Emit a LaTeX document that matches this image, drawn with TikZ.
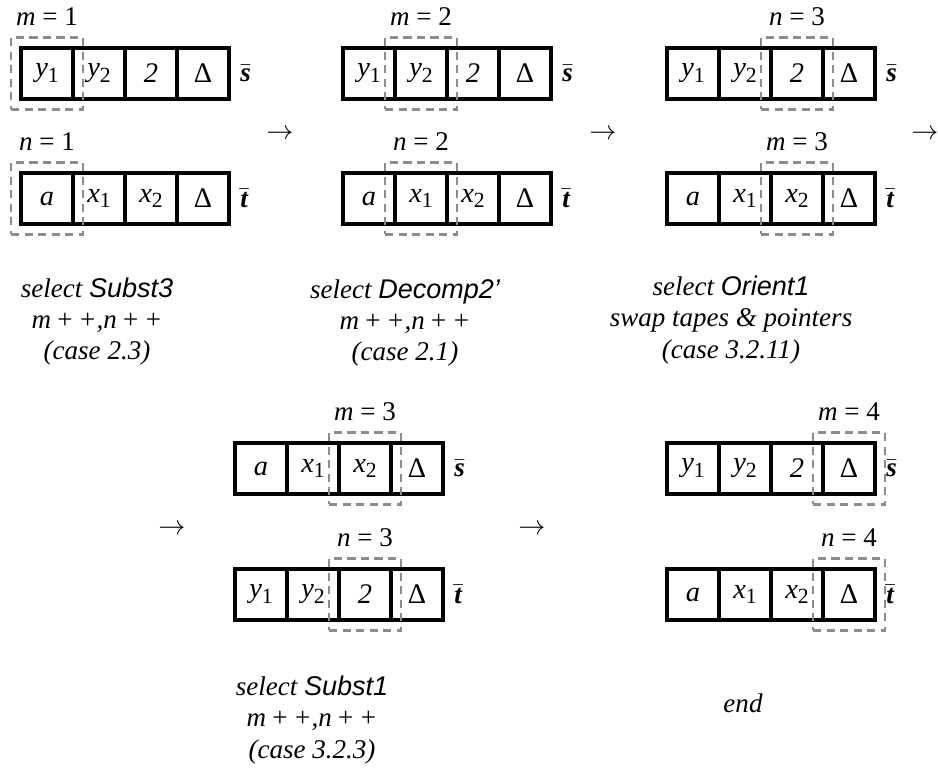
\documentclass[tikz,border=0pt]{standalone}
\usepackage{fontspec}
\setmainfont{Liberation Serif}
\setsansfont{Liberation Sans}
\usetikzlibrary{positioning}
\tikzstyle{cell} = [rectangle, draw, line width=1.4pt, minimum width=19.24pt, minimum height=18.9pt, inner sep=0pt, text centered, font=\itshape\fontsize{10.5}{12}\selectfont]
\tikzstyle{pointer} = [rectangle, draw=gray!90, dash pattern=on 3pt off 2pt, line width=0.9pt, minimum width=26.6pt, minimum height=26.6pt]
\tikzstyle{caption} = [align=center, font=\itshape\fontsize{10}{11.5}\selectfont]
\newcommand{\ix}[2]{#1\raisebox{-0.45ex}{\footnotesize\upshape #2}}
\newcommand{\tapeend}{{\upshape Δ}}
\newcommand{\sbar}{$\bar{\mbox{\bfseries\itshape s}}$}
\newcommand{\tbar}{$\bar{\mbox{\bfseries\itshape t}}$}
\newcommand{\tape}[6]{
        \node (#1-1) [cell] at #2 {#3};
        \node (#1-2) [cell, right of = #1-1] {#4};
        \node (#1-3) [cell, right of = #1-2] {#5};
        \node (#1-4) [cell, right of = #1-3] {#6};
}
\begin{document}
\begin{tikzpicture}[x=0.37pt, y=-0.37pt, node distance=19.24pt]
        \useasboundingbox (0,0) rectangle (938,771);
        % step 1
        \tape{s1}{(47,73.5)}{\ix{y}{1}}{\ix{y}{2}}{2}{\tapeend}
        \tape{t1}{(47,198.5)}{a}{\ix{x}{1}}{\ix{x}{2}}{\tapeend}
        \node (s1p) [pointer] at (s1-1) {};
        \node (t1p) [pointer] at (t1-1) {};
        \node (s1m) [above=0.5pt of s1p] {\textit{m} = 1};
        \node (t1n) [above=0.5pt of t1p] {\textit{n} = 1};
        \node (s1name) [right=0pt of s1-4] {\sbar};
        \node (t1name) [right=0pt of t1-4] {\tbar};
        \node (s1text) [caption] at (97,322) {select \textsf{Subst3}\\ \textit{m}\,+\,+,\textit{n}\,+\,+\\ (case 2.3)};
        \node (go1) at (280,135) {$\rightarrow$};
        % step 2
        \tape{s2}{(369,73.5)}{\ix{y}{1}}{\ix{y}{2}}{2}{\tapeend}
        \tape{t2}{(369,198.5)}{a}{\ix{x}{1}}{\ix{x}{2}}{\tapeend}
        \node (s2p) [pointer] at (s2-2) {};
        \node (t2p) [pointer] at (t2-2) {};
        \node (s2m) [above=0.5pt of s2p] {\textit{m} = 2};
        \node (t2n) [above=0.5pt of t2p] {\textit{n} = 2};
        \node (s2name) [right=0pt of s2-4] {\sbar};
        \node (t2name) [right=0pt of t2-4] {\tbar};
        \node (s2text) [caption] at (405,323) {select \textsf{Decomp2'}\\ \textit{m}\,+\,+,\textit{n}\,+\,+\\ (case 2.1)};
        \node (go2) at (603,135) {$\rightarrow$};
        % step 3
        \tape{s3}{(693,73.5)}{\ix{y}{1}}{\ix{y}{2}}{2}{\tapeend}
        \tape{t3}{(693,198.5)}{a}{\ix{x}{1}}{\ix{x}{2}}{\tapeend}
        \node (s3p) [pointer] at (s3-3) {};
        \node (t3p) [pointer] at (t3-3) {};
        \node (s3n) [above=0.5pt of s3p] {\textit{n} = 3};
        \node (t3m) [above=0.5pt of t3p] {\textit{m} = 3};
        \node (s3name) [right=0pt of s3-4] {\sbar};
        \node (t3name) [right=0pt of t3-4] {\tbar};
        \node (s3text) [caption] at (731,320) {select \textsf{Orient1}\\ swap tapes \& pointers\\ (case 3.2.11)};
        \node (go3) at (925,135) {$\rightarrow$};
        % step 4
        \node (go4) at (172,530) {$\rightarrow$};
        \tape{s4}{(261,468.5)}{a}{\ix{x}{1}}{\ix{x}{2}}{\tapeend}
        \tape{t4}{(261,594.5)}{\ix{y}{1}}{\ix{y}{2}}{2}{\tapeend}
        \node (s4p) [pointer] at (s4-3) {};
        \node (t4p) [pointer] at (t4-3) {};
        \node (s4m) [above=0.5pt of s4p] {\textit{m} = 3};
        \node (t4n) [above=0.5pt of t4p] {\textit{n} = 3};
        \node (s4name) [right=0pt of s4-4] {\sbar};
        \node (t4name) [right=0pt of t4-4] {\tbar};
        \node (s4text) [caption] at (312,720) {select \textsf{Subst1}\\ \textit{m}\,+\,+,\textit{n}\,+\,+\\ (case 3.2.3)};
        \node (go5) at (532,530) {$\rightarrow$};
        % step 5
        \tape{s5}{(693,468.5)}{\ix{y}{1}}{\ix{y}{2}}{2}{\tapeend}
        \tape{t5}{(693,594.5)}{a}{\ix{x}{1}}{\ix{x}{2}}{\tapeend}
        \node (s5p) [pointer] at (s5-4) {};
        \node (t5p) [pointer] at (t5-4) {};
        \node (s5m) [above=0.5pt of s5p] {\textit{m} = 4};
        \node (t5n) [above=0.5pt of t5p] {\textit{n} = 4};
        \node (s5name) [right=0pt of s5-4] {\sbar};
        \node (t5name) [right=0pt of t5-4] {\tbar};
        \node (s5text) [caption] at (743,703) {end};
\end{tikzpicture}
\end{document}
